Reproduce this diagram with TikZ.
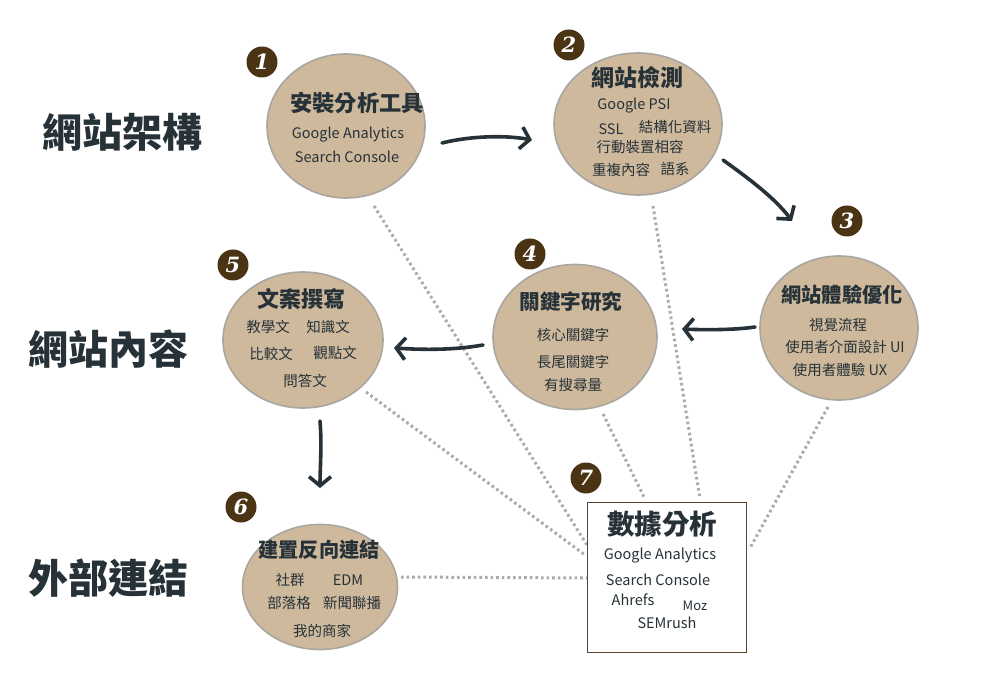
\documentclass[tikz,border=0pt]{standalone}
\usepackage{fontspec}
\setmainfont{Noto Sans CJK TC}
\newfontfamily\numfont{DejaVu Serif}
\usetikzlibrary{arrows.meta,shapes.geometric}
\definecolor{tan}{HTML}{CFB99D}
\definecolor{rim}{HTML}{A9A6A2}
\definecolor{ink}{HTML}{263238}
\definecolor{badgec}{HTML}{4A3414}
\definecolor{dotc}{HTML}{ABABAB}
\definecolor{boxc}{HTML}{5A4630}
\tikzset{
  topic/.style={ellipse,draw=rim,line width=1.6pt,fill=tan,inner sep=0pt},
  badge/.style={circle,fill=badgec,text=white,minimum size=31pt,inner sep=0pt,font=\numfont\bfseries\itshape\fontsize{21}{21}\selectfont},
  ttl/.style={text=ink,font=\bfseries\fontsize{#1}{#1}\selectfont,inner sep=0pt},
  ttl/.default=22,
  sub/.style={text=ink,font=\fontsize{14.5}{14.5}\selectfont,inner sep=0pt},
  side/.style={text=ink,font=\bfseries\fontsize{40}{40}\selectfont,inner sep=0pt},
  flow/.style={draw=ink,line width=3.6pt,line cap=round,-{Straight Barb[length=9pt,width=22pt,line width=3.6pt]}},
  dots/.style={draw=dotc,line width=3pt,dash pattern=on 2.6pt off 3pt}
}
\begin{document}
\begin{tikzpicture}[x=1pt,y=-1pt]
\useasboundingbox[fill=white] (0,0) rectangle (1000,700);
% side labels
\node[side] (sA) at (122,132) {網站架構};
\node[side] (sB) at (108,349) {網站內容};
\node[side] (sC) at (108,578) {外部連結};
% dotted connectors (behind)
\coordinate (d1a) at (374,206); \coordinate (d1b) at (587,545);
\coordinate (d5a) at (366,392); \coordinate (d5b) at (585,555);
\coordinate (d6a) at (401,577); \coordinate (d6b) at (587,578);
\coordinate (d2a) at (653,206); \coordinate (d2b) at (700,499);
\coordinate (d4a) at (603,414); \coordinate (d4b) at (645,499);
\coordinate (d3a) at (828,407); \coordinate (d3b) at (750,548);
\draw[dots] (d1a) -- (d1b);
\draw[dots] (d5a) -- (d5b);
\draw[dots] (d6a) -- (d6b);
\draw[dots] (d2a) -- (d2b);
\draw[dots] (d4a) -- (d4b);
\draw[dots] (d3a) -- (d3b);
% circles
\node[topic,minimum width=158pt,minimum height=144pt] (c1) at (346,126) {};
\node[topic,minimum width=168pt,minimum height=142pt] (c2) at (638,124) {};
\node[topic,minimum width=158pt,minimum height=144pt] (c3) at (839,328) {};
\node[topic,minimum width=164pt,minimum height=145pt] (c4) at (575,337) {};
\node[topic,minimum width=160pt,minimum height=136pt] (c5) at (303,340) {};
\node[topic,minimum width=155pt,minimum height=125pt] (c6) at (320,587) {};
\node[draw=boxc,line width=1pt,fill=white,minimum width=159pt,minimum height=150pt,inner sep=0pt] (c7) at (666.5,577) {};
% badges
\node[badge] (b1) at (262,62) {1};
\node[badge] (b2) at (569,45) {2};
\node[badge] (b3) at (847,221) {3};
\node[badge] (b4) at (530,254) {4};
\node[badge] (b5) at (233,265) {5};
\node[badge] (b6) at (241,507) {6};
\node[badge] (b7) at (586,478) {7};
% texts 1
\node[ttl=22.3] (t1) at (357,103) {安裝分析工具};
\node[sub] (t1a) at (348,135) {Google Analytics};
\node[sub] (t1b) at (347,157) {Search Console};
% texts 2
\node[ttl=23] (t2) at (637,78) {網站檢測};
\node[sub] (t2a) at (634,106) {Google PSI};
\node[sub] (t2b) at (611,129) {SSL};
\node[sub] (t2c) at (675,127) {結構化資料};
\node[sub] (t2d) at (640,147) {行動裝置相容};
\node[sub] (t2e) at (621,170) {重複內容};
\node[sub] (t2f) at (675,169) {語系};
% texts 3
\node[ttl=20.2] (t3) at (842,295) {網站體驗優化};
\node[sub] (t3a) at (838,325) {視覺流程};
\node[sub] (t3b) at (845,347) {使用者介面設計 UI};
\node[sub] (t3c) at (840,370) {使用者體驗 UX};
% texts 4
\node[ttl=20.6] (t4) at (571,302) {關鍵字研究};
\node[sub] (t4a) at (573,335) {核心關鍵字};
\node[sub] (t4b) at (573,362) {長尾關鍵字};
\node[sub] (t4c) at (573,385) {有搜尋量};
% texts 5
\node[ttl=22] (t5) at (301,299) {文案撰寫};
\node[sub] (t5a) at (268,327) {教學文};
\node[sub] (t5b) at (328,327) {知識文};
\node[sub] (t5c) at (271,354) {比較文};
\node[sub] (t5d) at (335,353) {觀點文};
\node[sub] (t5e) at (305,381) {問答文};
% texts 6
\node[ttl=20.2] (t6) at (319,550) {建置反向連結};
\node[sub] (t6a) at (290,580) {社群};
\node[sub] (t6b) at (348,580) {EDM};
\node[sub] (t6c) at (289,603) {部落格};
\node[sub] (t6d) at (352,603) {新聞聯播};
\node[sub] (t6e) at (322,631) {我的商家};
% texts 7
\node[text=ink,font=\bfseries\fontsize{27.5}{27.5}\selectfont,inner sep=0pt] (t7) at (662,524) {數據分析};
\node[sub] (t7a) at (660,556) {Google Analytics};
\node[sub] (t7b) at (658,580) {Search Console};
\node[sub] (t7c) at (633,600) {Ahrefs};
\node[sub,font=\fontsize{13}{13}\selectfont] (t7d) at (695,606) {Moz};
\node[sub] (t7e) at (667,623) {SEMrush};
% flow arrows
\coordinate (a1s) at (442,143); \coordinate (a1e) at (532,140);
\coordinate (a2s) at (723,160); \coordinate (a2e) at (792,221);
\coordinate (a3s) at (755,327); \coordinate (a3e) at (682,329);
\coordinate (a4s) at (483,345); \coordinate (a4e) at (394,348);
\coordinate (a5s) at (320,421); \coordinate (a5e) at (320,488);
\draw[flow] (a1s) .. controls (470,136) and (505,135) .. (a1e);
\draw[flow] (a2s) .. controls (748,178) and (775,198) .. (a2e);
\draw[flow] (a3s) .. controls (735,330) and (705,330) .. (a3e);
\draw[flow] (a4s) .. controls (455,350) and (425,350) .. (a4e);
\draw[flow] (a5s) .. controls (322,445) and (320,468) .. (a5e);
\end{tikzpicture}
\end{document}
